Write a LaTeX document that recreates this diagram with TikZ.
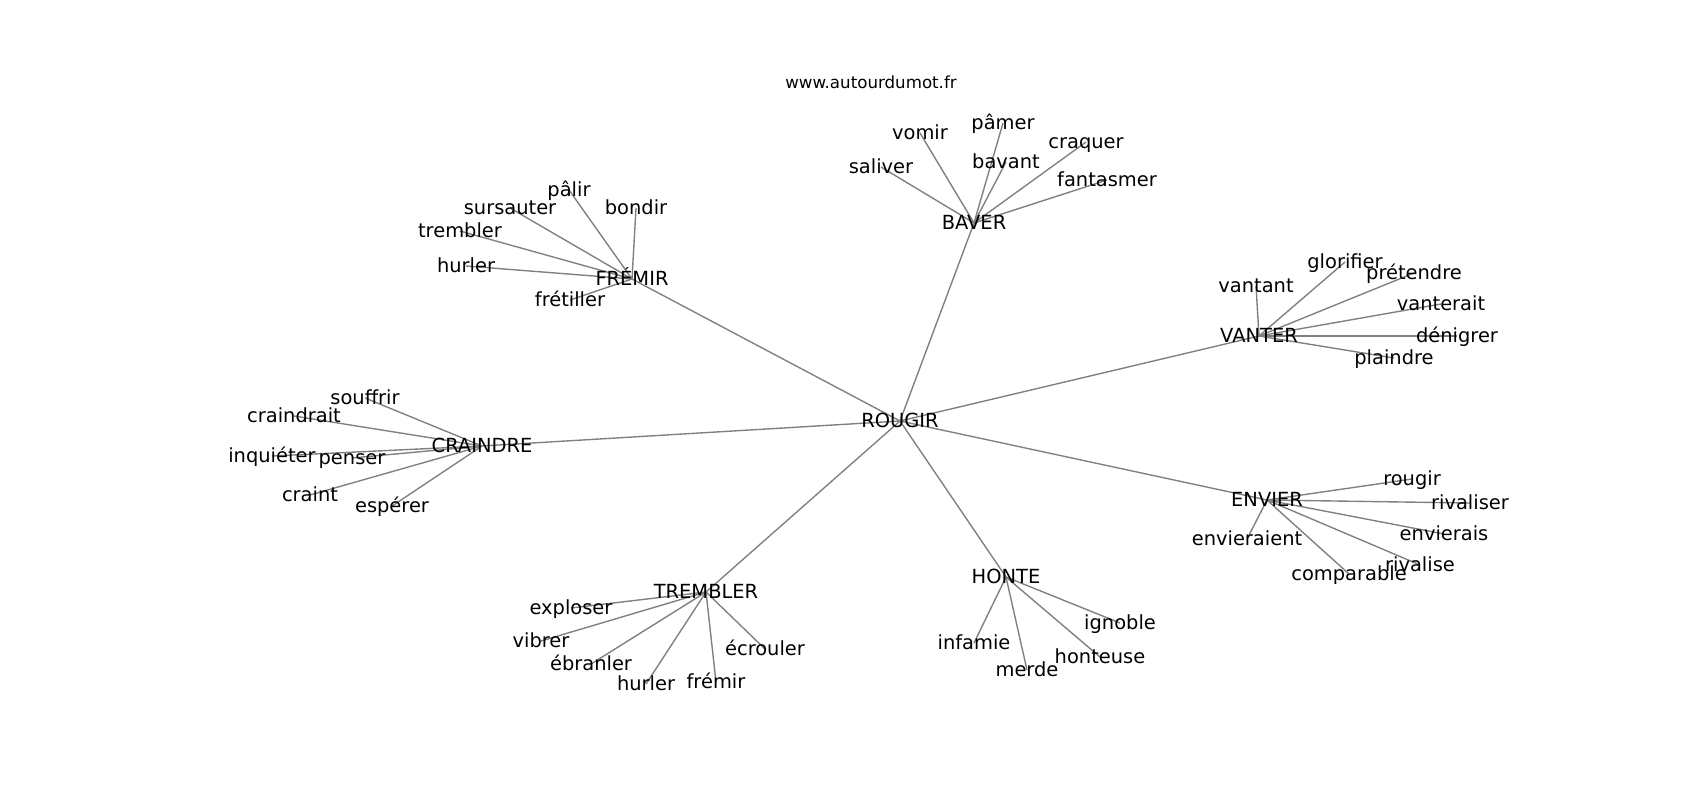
\documentclass[tikz,border=0pt]{standalone}
\usepackage{fontspec}
\setmainfont{DejaVu Sans}
\usetikzlibrary{backgrounds}

\begin{document}
\begin{tikzpicture}[x=0.72pt, y=-0.72pt,
   word/.style={inner sep=0pt, text height=0.96em, text depth=0.05em, font=\fontsize{14}{17}\selectfont},
   link/.style={draw=gray, line width=1pt}]
   \useasboundingbox (0,0) rectangle (1700,800);
   \node (t_0) at (871,82) {\fontsize{12}{14}\selectfont www.autourdumot.fr};
   \node[word] (h_0) at (900,421) {ROUGIR};
   \node[word] (h_1) at (632,279) {FRÉMIR};
   \node[word] (h_2) at (974,223) {BAVER};
   \node[word] (h_3) at (1259,336) {VANTER};
   \node[word] (h_4) at (1267,500) {ENVIER};
   \node[word] (h_5) at (1006,577) {HONTE};
   \node[word] (h_6) at (706,592) {TREMBLER};
   \node[word] (h_7) at (482,446) {CRAINDRE};
   \node[word] (n_1) at (569,190) {pâlir};
   \node[word] (n_2) at (636,208) {bondir};
   \node[word] (n_3) at (510,208) {sursauter};
   \node[word] (n_4) at (460,231) {trembler};
   \node[word] (n_5) at (466,266) {hurler};
   \node[word] (n_6) at (570,300) {frétiller};
   \node[word] (n_7) at (920,133) {vomir};
   \node[word] (n_8) at (1003,123) {pâmer};
   \node[word] (n_9) at (1086,142) {craquer};
   \node[word] (n_10) at (881,167) {saliver};
   \node[word] (n_11) at (1006,162) {bavant};
   \node[word] (n_12) at (1107,180) {fantasmer};
   \node[word] (n_13) at (1345,262) {glorifier};
   \node[word] (n_14) at (1414,273) {prétendre};
   \node[word] (n_15) at (1256,286) {vantant};
   \node[word] (n_16) at (1441,304) {vanterait};
   \node[word] (n_17) at (1457,336) {dénigrer};
   \node[word] (n_18) at (1394,358) {plaindre};
   \node[word] (n_19) at (1412,479) {rougir};
   \node[word] (n_20) at (1470,503) {rivaliser};
   \node[word] (n_21) at (1444,534) {envierais};
   \node[word] (n_22) at (1247,539) {envieraient};
   \node[word] (n_23) at (1420,565) {rivalise};
   \node[word] (n_24) at (1349,574) {comparable};
   \node[word] (n_25) at (1120,623) {ignoble};
   \node[word] (n_26) at (974,643) {infamie};
   \node[word] (n_27) at (1100,657) {honteuse};
   \node[word] (n_28) at (1027,670) {merde};
   \node[word] (n_29) at (571,608) {exploser};
   \node[word] (n_30) at (541,641) {vibrer};
   \node[word] (n_31) at (765,649) {écrouler};
   \node[word] (n_32) at (591,664) {ébranler};
   \node[word] (n_33) at (646,684) {hurler};
   \node[word] (n_34) at (716,682) {frémir};
   \node[word] (n_35) at (365,398) {souffrir};
   \node[word] (n_36) at (294,416) {craindrait};
   \node[word] (n_37) at (272,456) {inquiéter};
   \node[word] (n_38) at (352,458) {penser};
   \node[word] (n_39) at (310,495) {craint};
   \node[word] (n_40) at (392,506) {espérer};
   \begin{scope}[on background layer]
   \path[link]
    (h_0.center) edge (h_1.center)
                 edge (h_2.center)
                 edge (h_3.center)
                 edge (h_4.center)
                 edge (h_5.center)
                 edge (h_6.center)
                 edge (h_7.center)
    (h_1.center) edge (n_1.center)
                 edge (n_2.center)
                 edge (n_3.center)
                 edge (n_4.center)
                 edge (n_5.center)
                 edge (n_6.center)
    (h_2.center) edge (n_7.center)
                 edge (n_8.center)
                 edge (n_9.center)
                 edge (n_10.center)
                 edge (n_11.center)
                 edge (n_12.center)
    (h_3.center) edge (n_13.center)
                 edge (n_14.center)
                 edge (n_15.center)
                 edge (n_16.center)
                 edge (n_17.center)
                 edge (n_18.center)
    (h_4.center) edge (n_19.center)
                 edge (n_20.center)
                 edge (n_21.center)
                 edge (n_22.center)
                 edge (n_23.center)
                 edge (n_24.center)
    (h_5.center) edge (n_25.center)
                 edge (n_26.center)
                 edge (n_27.center)
                 edge (n_28.center)
    (h_6.center) edge (n_29.center)
                 edge (n_30.center)
                 edge (n_31.center)
                 edge (n_32.center)
                 edge (n_33.center)
                 edge (n_34.center)
    (h_7.center) edge (n_35.center)
                 edge (n_36.center)
                 edge (n_37.center)
                 edge (n_38.center)
                 edge (n_39.center)
                 edge (n_40.center);
   \end{scope}
\end{tikzpicture}
\end{document}
